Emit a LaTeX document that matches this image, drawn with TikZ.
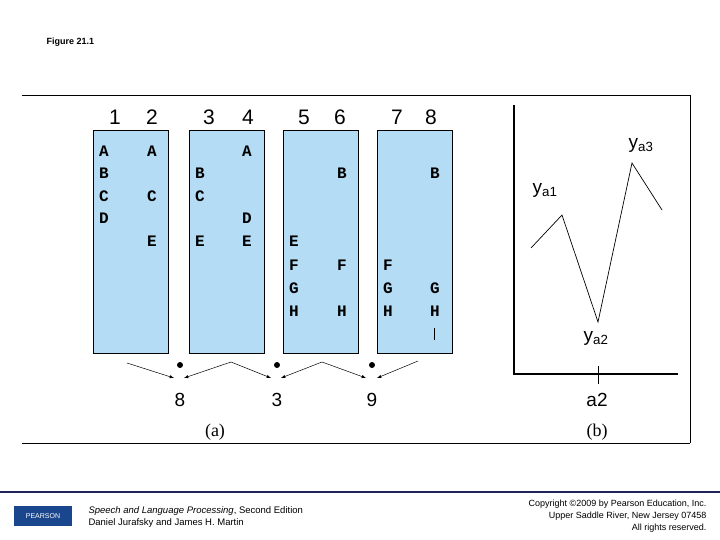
\documentclass[tikz,border=0pt]{standalone}
\usepackage{fontspec}
\setmainfont{Liberation Sans}
\setmonofont{Liberation Mono}
\newfontfamily\serifx{Liberation Serif}
\begin{document}
\begin{tikzpicture}[x=1pt,y=-1pt,
  blk/.style={draw=black,fill={rgb,255:red,180;green,220;blue,245},line width=0.7pt},
  lt/.style={font=\ttfamily\bfseries\fontsize{16}{16}\selectfont,anchor=base},
  num/.style={font=\fontsize{21}{21}\selectfont,anchor=base},
  arr/.style={-latex,line width=0.5pt},
  dot/.style={circle,fill=black,inner sep=0pt,minimum size=6pt}]
\useasboundingbox (0,0) rectangle (720,540);
\node[font=\fontsize{9}{9}\selectfont\bfseries,anchor=west] (title) at (43,42) {Figure 21.1};
\draw[line width=0.6pt] (22,95) -- (690,95) -- (690,443) (22,443) -- (690,443);
\foreach \n/\a/\b in {b1/93/168,b2/189/264,b3/283/358,b4/377/452}
  \path[blk] (\a,130) rectangle (\b,353);
\foreach \i/\x in {1/115,2/152,3/209,4/248,5/304,6/340,7/397,8/431}
  \node[num] (n\i) at (\x,125) {\i};
\foreach \t/\x/\y in {A/104/151,B/104/173,C/104/196,D/104/218,
  A/152/151,C/152/196,E/152/241,
  B/200/173,C/200/196,E/200/241,
  A/247/151,D/247/218,E/247/241,
  E/294/241,F/294/264,G/294/287,H/294/310,
  B/342/173,F/342/264,H/342/310,
  F/388/264,G/388/287,H/388/310,
  B/435/173,G/435/287,H/435/310}
  \node[lt] at (\x,\y+6) {\t};
\draw[line width=0.6pt] (434,328) -- (434,340);
\foreach \k/\x/\v in {d1/180/8,d2/277/3,d3/372/9}{
  \node[dot] (\k) at (\x,365) {};
  \node[font=\fontsize{19}{19}\selectfont] (v\k) at (\x,400) {\v};
}
\coordinate (s1) at (127,363); \coordinate (s2) at (231,362);
\coordinate (s3) at (322,362); \coordinate (s4) at (418,361);
\coordinate (t1l) at (174,378); \coordinate (t1r) at (184,378);
\coordinate (t2l) at (271,378); \coordinate (t2r) at (281,378);
\coordinate (t3l) at (366,378); \coordinate (t3r) at (377,378);
\draw[arr] (s1) -- (t1l); \draw[arr] (s2) -- (t1r);
\draw[arr] (s2) -- (t2l); \draw[arr] (s3) -- (t2r);
\draw[arr] (s3) -- (t3l); \draw[arr] (s4) -- (t3r);
\node[font=\serifx\fontsize{18}{18}\selectfont] (la) at (215,432) {(a)};
\node[font=\serifx\fontsize{18}{18}\selectfont] (lb) at (597,432) {(b)};
\draw[line width=1.6pt] (514,105) -- (514,374) -- (678,374);
\draw[line width=0.7pt] (531,248) -- (562,215) -- (598,322) -- (632,163) -- (662,210);
\draw[line width=0.7pt] (598,366) -- (598,384);
\node[font=\fontsize{19}{19}\selectfont] (ya1) at (545,190) {y$_{\mathrm{a1}}$};
\node[font=\fontsize{19}{19}\selectfont] (ya2) at (596,338) {y$_{\mathrm{a2}}$};
\node[font=\fontsize{19}{19}\selectfont] (ya3) at (641,145) {y$_{\mathrm{a3}}$};
\node[font=\fontsize{19}{19}\selectfont] (a2) at (597,400) {a2};
\draw[line width=1.5pt,color={rgb,255:red,30;green,35;blue,90}] (0,492) -- (720,492);
\node[fill={rgb,255:red,25;green,70;blue,140},text=white,font=\fontsize{7}{7}\selectfont,minimum width=58pt,minimum height=20pt,inner sep=0pt] (logo) at (43,516) {PEARSON};
\node[anchor=west,font=\fontsize{9.5}{12}\selectfont,align=left] (book) at (85,517) {\textit{Speech and Language Processing}, Second Edition\\Daniel Jurafsky and James H. Martin};
\node[anchor=east,font=\fontsize{9}{12}\selectfont,align=right] (copy) at (710,516) {Copyright \textcopyright2009 by Pearson Education, Inc.\\Upper Saddle River, New Jersey 07458\\All rights reserved.};
\end{tikzpicture}
\end{document}
